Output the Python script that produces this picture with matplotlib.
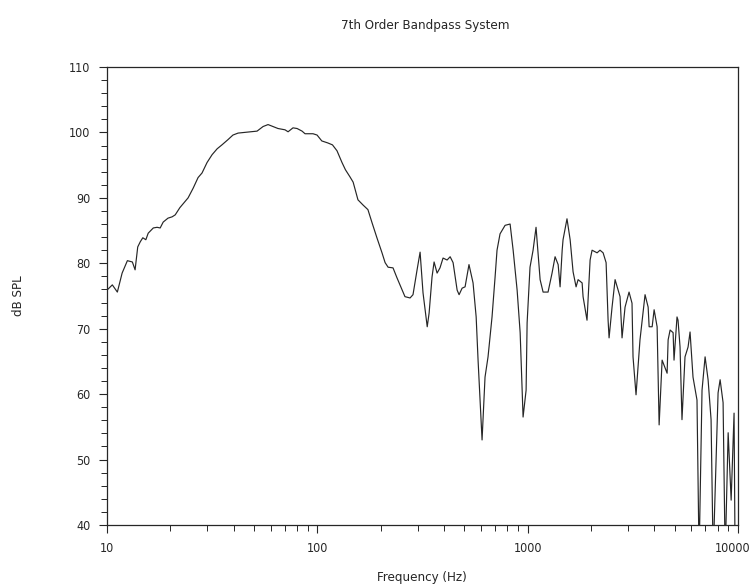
import matplotlib
matplotlib.use("Agg")
import matplotlib.pyplot as plt
import matplotlib.transforms as mtransforms
import numpy as np
from matplotlib.ticker import MultipleLocator, LogLocator, NullFormatter

freq_hz = [10, 10.6, 11.2, 11.8, 12.5, 13.2, 13.6, 14.0, 14.4, 14.8, 15.3, 15.7, 16.6, 17.3,
           17.9, 18.5, 19.5, 20.4, 21.1, 22.2, 24.3, 25.7, 27.1, 28.3, 29.9, 31.6, 33.4, 35.2,
           37.6, 39.7, 42.0, 47.9, 51.7, 55.2, 58.3, 61.6, 65.0, 70.2, 72.6, 76.6, 80.1, 84.6,
           87.4, 95.4, 99.7, 105, 112, 118, 124, 131, 136, 143, 148, 156, 165, 174, 182, 192,
           203, 210, 217, 229, 239, 247, 261, 276, 285, 298, 308, 318, 333, 340, 351, 359, 371,
           383, 396, 414, 428, 442, 462, 472, 488, 504, 526, 550, 569, 581, 607, 627, 648, 677,
           700, 715, 739, 781, 825, 853, 891, 921, 951, 983, 994, 1026, 1061, 1096, 1146, 1184,
           1250, 1306, 1350, 1396, 1426, 1459, 1473, 1538, 1592, 1644, 1699, 1737, 1815, 1834,
           1915, 1981, 2024, 2138, 2208, 2284, 2360, 2412, 2438, 2519, 2604, 2749, 2810, 2904,
           3034, 3134, 3169, 3275, 3420, 3615, 3739, 3780, 3907, 3992, 4125, 4217, 4357, 4602,
           4654, 4756, 4914, 4964, 5129, 5187, 5302, 5416, 5598, 5789, 5916, 6111, 6383, 6531,
           6745, 6975, 7208, 7447, 7620, 8041, 8222, 8494, 8690, 8978, 9277, 9578, 9686, 10000]

spl_db = [75.9, 76.7, 75.6, 78.5, 80.4, 80.2, 79.0, 82.5, 83.3, 83.9, 83.6, 84.6, 85.4, 85.5,
          85.4, 86.3, 86.9, 87.1, 87.4, 88.5, 90.0, 91.5, 93.1, 93.8, 95.4, 96.6, 97.5, 98.1,
          98.9, 99.6, 99.9, 100.1, 100.2, 100.9, 101.2, 100.9, 100.6, 100.4, 100.1, 100.7, 100.6, 100.2,
          99.8, 99.8, 99.6, 98.7, 98.4, 98.1, 97.2, 95.4, 94.3, 93.2, 92.4, 89.7, 88.9, 88.2, 86.2, 83.9,
          81.6, 80.1, 79.4, 79.3, 77.8, 76.7, 74.9, 74.7, 75.2, 79.0, 81.7, 75.5, 70.3, 72.4, 77.9, 80.2, 78.5,
          79.3, 80.8, 80.5, 81.0, 80.1, 75.9, 75.2, 76.2, 76.4, 79.8, 77.0, 71.8, 65.2, 53.0, 62.6, 65.7, 71.8,
          77.9, 82.0, 84.5, 85.8, 86.0, 82.0, 75.9, 69.4, 56.5, 60.6, 70.9, 79.4, 82.0, 85.5, 77.5, 75.6,
          75.6, 78.5, 81.0, 79.8, 76.4, 82.0, 83.6, 86.8, 83.6, 78.7, 76.4, 77.5, 77.0, 74.9,
          71.3, 80.5, 82.0, 81.6, 82.0, 81.6, 80.1, 71.3, 68.6, 73.3, 77.5, 74.9, 68.6, 73.3,
          75.6, 73.9, 65.7, 59.9, 68.3, 75.2, 73.3, 70.3, 70.3, 72.9, 70.3, 55.3, 65.2, 63.2,
          68.3, 69.8, 69.4, 65.2, 71.8, 71.3, 67.2, 56.1, 65.7, 67.2, 69.5, 62.6, 59.1, 35,
          60.6, 65.7, 62.2, 56.1, 35, 60.2, 62.2, 58.7, 35, 54.1, 43.8, 57.1, 35, 35]

x_ticks = [10, 100, 1000, 10000]
x_labels = ["10", "100", "1000", "10000"]
y_ticks = [40, 50, 60, 70, 80, 90, 100, 110]

ink = "#262626"
font = dict(family="DejaVu Sans", fontstretch="condensed", color=ink)

fig = plt.figure(figsize=(7.54, 5.88), dpi=100)
ax = fig.add_axes([107 / 754, 63 / 588, 631 / 754, 458 / 588])

ax.plot(freq_hz, spl_db, color=ink, linewidth=0.85)

ax.set_xscale("log")
ax.set_xlim(10, 10000)
ax.set_ylim(40, 110)

ax.set_xticks(x_ticks)
ax.set_xticklabels(x_labels)
ax.xaxis.set_minor_locator(LogLocator(base=10, subs=np.arange(2, 10)))
ax.xaxis.set_minor_formatter(NullFormatter())
ax.set_yticks(y_ticks)
ax.yaxis.set_minor_locator(MultipleLocator(2))

ax.tick_params(which="major", direction="out", length=6, width=0.8, color=ink,
               labelsize=9, pad=6, top=False, right=False)
ax.tick_params(which="minor", direction="out", length=4, width=0.7, color=ink,
               top=False, right=False)
for lab in ax.get_xticklabels() + ax.get_yticklabels():
    lab.set_fontstretch("condensed")
    lab.set_color(ink)

# last x label sits at the right edge of the figure, nudge it in a bit
last = ax.get_xticklabels()[-1]
last.set_transform(last.get_transform() + mtransforms.ScaledTranslation(-4 / 72, 0, fig.dpi_scale_trans))

for s in ax.spines.values():
    s.set_linewidth(0.9)
    s.set_color(ink)

fig.text(425 / 754, 1 - 25 / 588, "7th Order Bandpass System", ha="center", va="center",
         fontsize=9.5, **font)
fig.text(19 / 754, 1 - 296 / 588, "dB SPL", rotation=90, ha="center", va="center",
         fontsize=9.5, **font)
fig.text(422 / 754, 1 - 577 / 588, "Frequency (Hz)", ha="center", va="center",
         fontsize=9.5, **font)

fig.savefig("out.png", dpi=100)
